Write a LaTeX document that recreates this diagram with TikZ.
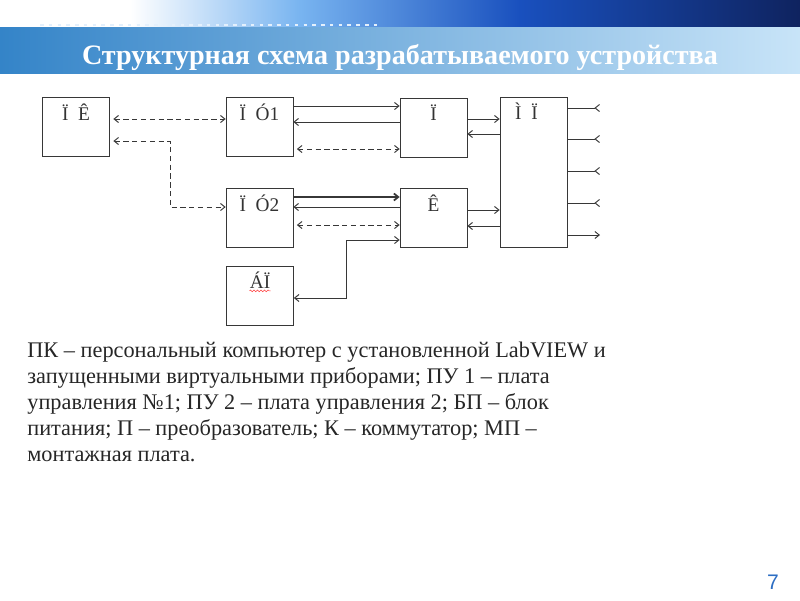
\documentclass[tikz,border=0pt]{standalone}
\usepackage{fontspec}
\setmainfont{Liberation Serif}
\setsansfont{Liberation Sans}
\usepackage{xcolor}
\usetikzlibrary{positioning,arrows.meta}
\usetikzlibrary{decorations.pathmorphing}

\definecolor{wireclr}{RGB}{55,55,55}
\definecolor{bandL}{RGB}{52,132,200}
\definecolor{bandR}{RGB}{200,228,248}
\definecolor{topA}{RGB}{120,180,240}
\definecolor{topB}{RGB}{25,80,190}
\definecolor{topC}{RGB}{15,35,95}
\definecolor{numclr}{RGB}{45,110,195}

\tikzset{
  blk/.style={draw=wireclr,shape=rectangle,minimum width=1.34cm,minimum height=1.18cm,inner sep=0pt},
  lbl/.style={anchor=north,font=\fontsize{11}{12}\selectfont,text=black!80,inner sep=0pt,yshift=-3.5pt},
  wire/.style={draw=wireclr,line width=0.55pt,>={Straight Barb[length=2.5pt,width=4pt]}},
  dwire/.style={wire,dash pattern=on 3pt off 2pt},
}

\begin{document}
\begin{tikzpicture}[x=0.02cm,y=-0.02cm]
\useasboundingbox (0,0) rectangle (800,600);

% banner
\fill[white] (0,0) rectangle (130,27);
\shade[left color=white,right color=topA] (130,0) rectangle (300,27);
\shade[left color=topA,right color=topB] (300,0) rectangle (520,27);
\shade[left color=topB,right color=topC] (520,0) rectangle (800,27);
\shade[left color=bandL,right color=bandR] (0,27) rectangle (800,73);
\draw[white!80!topA,line width=1.2pt,dash pattern=on 2pt off 3pt] (40,25) -- (380,25);
\node[text=white,font=\bfseries\fontsize{16}{17}\selectfont] (title) at (400,57) {Структурная схема разрабатываемого устройства};

% blocks
\draw node (pk) at (76,127) [blk,label={[lbl]north:Ï\enspace Ê}] {};
\draw node (pu1) at (259.5,127) [blk,label={[lbl]north:Ï\enspace Ó1}] {};
\draw node (p) at (433.5,128) [blk,label={[lbl]north:Ï}] {};
\draw node (mp) at (533.5,172) [blk,minimum height=3cm,label={[lbl,xshift=-4pt]north:Ì\enspace Ï}] {};
\draw node (pu2) at (259.5,218) [blk,label={[lbl]north:Ï\enspace Ó2}] {};
\draw node (k) at (433.5,218) [blk,label={[lbl]north:Ê}] {};
\draw node (bp) at (260,295.5) [blk,label={[lbl,name=bplbl]north:ÁÏ}] {};
\draw[red!75,line width=0.3pt,decorate,decoration={snake,amplitude=0.5pt,segment length=2pt}]
  ([yshift=-1pt]bplbl.south west) -- ([yshift=-1pt]bplbl.south east);

\coordinate (pkbend) at (170,207);
\coordinate (bpbend) at (346,240);
\foreach \y/\n in {108/1,139/2,171/3,203/4,235/5}
  \coordinate (out\n) at (600,\y);

% connections
\draw[dwire,<->,shorten <=2pt] (pk.east |- 0,119) -- (pu1.west |- 0,119);
\draw[dwire,<->,shorten <=2pt] (pk.east |- 0,141) -| (pkbend) -- (pu2.west |- 0,207);
\draw[wire,->] (pu1.east |- 0,106) -- (p.west |- 0,106);
\draw[wire,<-] (pu1.east |- 0,122) -- (p.west |- 0,122);
\draw[dwire,<->,shorten <=2pt] (pu1.east |- 0,149) -- (p.west |- 0,149);
\draw[wire,->] (p.east |- 0,119) -- (mp.west |- 0,119);
\draw[wire,<-] (p.east |- 0,134) -- (mp.west |- 0,134);
\draw[wire,->,line width=1pt] (pu2.east |- 0,197) -- (k.west |- 0,197);
\draw[wire,<-] (pu2.east |- 0,207) -- (k.west |- 0,207);
\draw[dwire,<->,shorten <=2pt] (pu2.east |- 0,225) -- (k.west |- 0,225);
\draw[wire,<->] (bp.east |- 0,298) -| (bpbend) -- (k.west |- 0,240);
\draw[wire,->] (k.east |- 0,210) -- (mp.west |- 0,210);
\draw[wire,<-] (k.east |- 0,226) -- (mp.west |- 0,226);
\foreach \n in {1,...,4}
  \draw[wire,-{Straight Barb[reversed,length=2.5pt,width=4pt]}] (mp.east |- out\n) -- (out\n);
\draw[wire,->] (mp.east |- out5) -- (out5);

% legend
\node (legend) at (27,342) [anchor=north west,align=left,inner sep=0pt,text=black!85,
  font=\fontsize{12.7}{14.7}\selectfont] {ПК – персональный компьютер с установленной LabVIEW и\\
запущенными виртуальными приборами; ПУ 1 – плата\\
управления №1; ПУ 2 – плата управления 2; БП – блок\\
питания; П – преобразователь; К – коммутатор; МП –\\
монтажная плата.};

\node (pagenum) at (773,582) [text=numclr,font=\sffamily\fontsize{12}{14}\selectfont] {7};
\end{tikzpicture}
\end{document}
